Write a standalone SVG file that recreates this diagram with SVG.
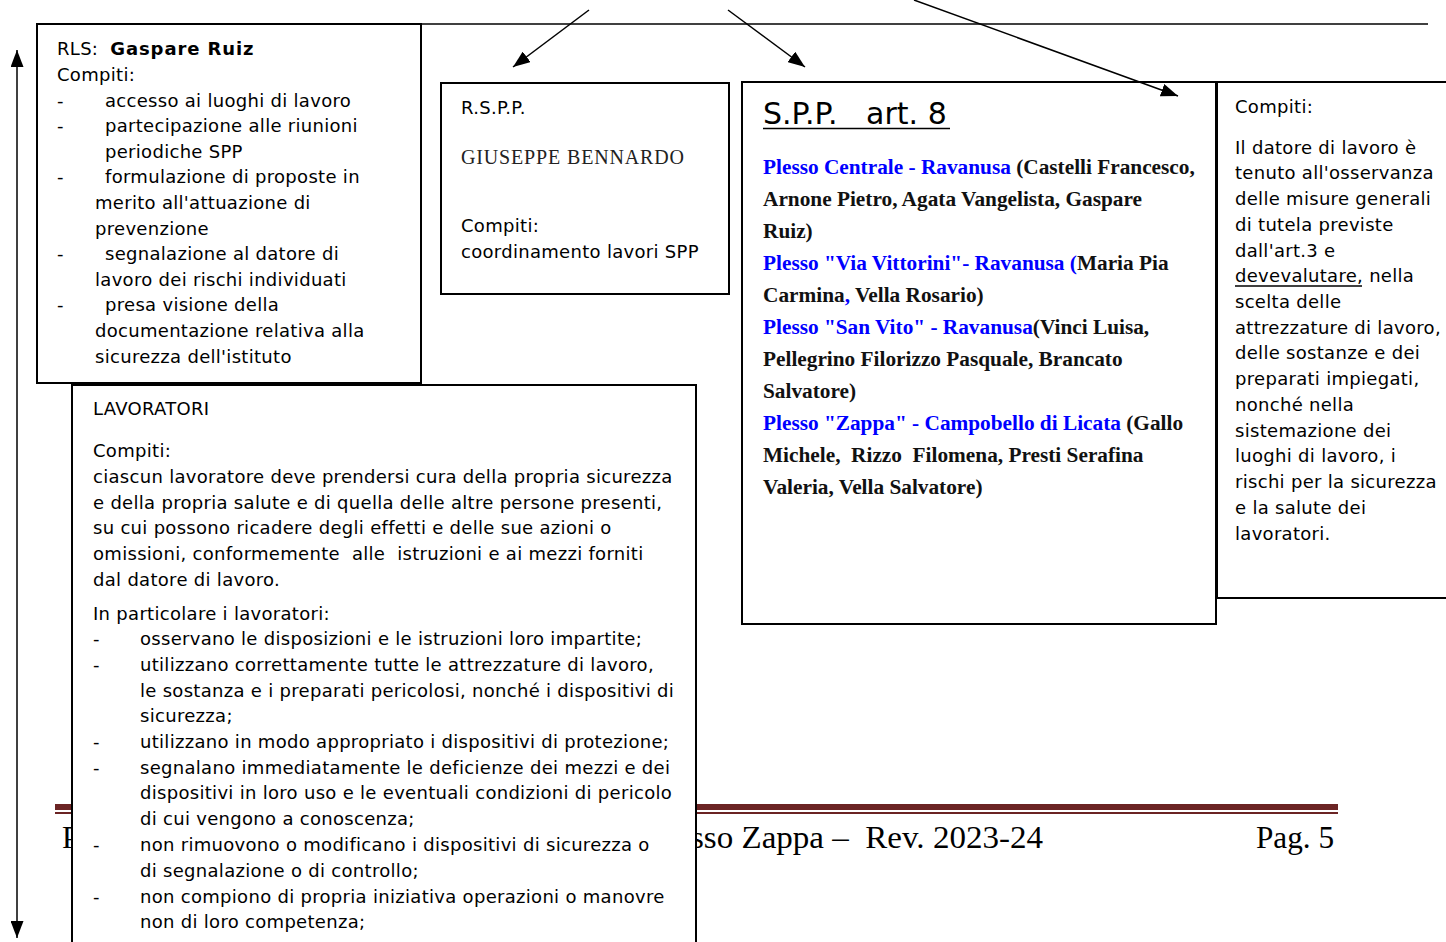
<svg xmlns="http://www.w3.org/2000/svg" width="1446" height="942" viewBox="0 0 1446 942">
<style>
text{white-space:pre}
.box{fill:#fff;stroke:#000;stroke-width:2}
.ln{stroke:#000;stroke-width:1.5;fill:none}
.t{font-family:"DejaVu Sans",Verdana,sans-serif;font-size:18px;letter-spacing:0.3px;fill:#000}
.b{font-weight:bold;letter-spacing:0.9px}
.s{font-family:"Liberation Serif","Times New Roman",serif;font-size:21.3px;font-weight:bold;fill:#111}
.blue{fill:#0000ff}
.nm{font-family:"Liberation Serif","Times New Roman",serif;font-size:20px;fill:#222}
.ttl{font-family:"DejaVu Sans",Verdana,sans-serif;font-size:30px;fill:#000}
.ft{font-family:"Liberation Serif","Times New Roman",serif;font-size:31px;fill:#000}
</style>
<defs>
<marker id="ah" viewBox="0 0 17 13" refX="17" refY="6.5" markerWidth="17" markerHeight="13" markerUnits="userSpaceOnUse" orient="auto-start-reverse">
<path d="M0,0 L17,6.5 L0,13 z" fill="#000"/>
</marker>
</defs>

<g id="footer">
<rect x="55" y="804" width="1283" height="6" fill="#6b2424"/>
<rect x="55" y="812" width="1283" height="2" fill="#6b2424"/>
<text class="ft" x="62" y="848">P</text>
<text class="ft" x="691" y="848" textLength="352" lengthAdjust="spacingAndGlyphs" xml:space="preserve">sso Zappa –  Rev. 2023-24</text>
<text class="ft" x="1256" y="848" textLength="78" lengthAdjust="spacingAndGlyphs">Pag. 5</text>
</g>

<g id="rls">
<rect class="box" x="37" y="24" width="384" height="359"/>
<text class="t" x="57" y="55" xml:space="preserve">RLS:  <tspan class="b">Gaspare Ruiz</tspan></text>
<text class="t" x="57" y="81">Compiti:</text>
<text class="t" x="57" y="107">-</text><text class="t" x="105" y="107">accesso ai luoghi di lavoro</text>
<text class="t" x="57" y="132">-</text><text class="t" x="105" y="132">partecipazione alle riunioni</text>
<text class="t" x="105" y="158">periodiche SPP</text>
<text class="t" x="57" y="183">-</text><text class="t" x="105" y="183">formulazione di proposte in</text>
<text class="t" x="95" y="209">merito all'attuazione di</text>
<text class="t" x="95" y="235">prevenzione</text>
<text class="t" x="57" y="260">-</text><text class="t" x="105" y="260">segnalazione al datore di</text>
<text class="t" x="95" y="286">lavoro dei rischi individuati</text>
<text class="t" x="57" y="311">-</text><text class="t" x="105" y="311">presa visione della</text>
<text class="t" x="95" y="337">documentazione relativa alla</text>
<text class="t" x="95" y="363">sicurezza dell'istituto</text>
</g>

<g id="rspp">
<rect class="box" x="441" y="83" width="288" height="211"/>
<text class="t" x="461" y="114">R.S.P.P.</text>
<text class="nm" x="461" y="164" textLength="223">GIUSEPPE BENNARDO</text>
<text class="t" x="461" y="232">Compiti:</text>
<text class="t" x="461" y="258">coordinamento lavori SPP</text>
</g>

<g id="spp">
<rect class="box" x="742" y="82" width="474" height="542"/>
<text class="ttl" x="763" y="124" xml:space="preserve">S.P.P.   art. 8</text>
<line x1="763" y1="128.5" x2="950" y2="128.5" stroke="#000" stroke-width="1.6"/>
<text class="s" x="763" y="174"><tspan class="blue">Plesso Centrale - Ravanusa</tspan> (Castelli Francesco,</text>
<text class="s" x="763" y="206">Arnone Pietro, Agata Vangelista, Gaspare</text>
<text class="s" x="763" y="238">Ruiz)</text>
<text class="s" x="763" y="270"><tspan class="blue">Plesso "Via Vittorini"- Ravanusa (</tspan>Maria Pia</text>
<text class="s" x="763" y="302">Carmina<tspan class="blue">,</tspan> Vella Rosario)</text>
<text class="s" x="763" y="334"><tspan class="blue">Plesso "San Vito" - Ravanusa</tspan>(Vinci Luisa,</text>
<text class="s" x="763" y="366">Pellegrino Filorizzo Pasquale, Brancato</text>
<text class="s" x="763" y="398">Salvatore)</text>
<text class="s" x="763" y="430"><tspan class="blue">Plesso "Zappa" - Campobello di Licata</tspan> (Gallo</text>
<text class="s" x="763" y="462" xml:space="preserve">Michele,  Rizzo  Filomena, Presti Serafina</text>
<text class="s" x="763" y="494">Valeria, Vella Salvatore)</text>
</g>

<g id="datore">
<path class="box" d="M1448,82 L1217,82 L1217,598 L1448,598"/>
<text class="t" x="1235" y="113">Compiti:</text>
<text class="t" x="1235" y="154">Il datore di lavoro è</text>
<text class="t" x="1235" y="179">tenuto all'osservanza</text>
<text class="t" x="1235" y="205">delle misure generali</text>
<text class="t" x="1235" y="231">di tutela previste</text>
<text class="t" x="1235" y="257">dall'art.3 e</text>
<text class="t" x="1235" y="282">devevalutare, nella</text>
<line x1="1235" y1="286" x2="1362" y2="286" stroke="#000" stroke-width="1.3"/>
<text class="t" x="1235" y="308">scelta delle</text>
<text class="t" x="1235" y="334">attrezzature di lavoro,</text>
<text class="t" x="1235" y="359">delle sostanze e dei</text>
<text class="t" x="1235" y="385">preparati impiegati,</text>
<text class="t" x="1235" y="411">nonché nella</text>
<text class="t" x="1235" y="437">sistemazione dei</text>
<text class="t" x="1235" y="462">luoghi di lavoro, i</text>
<text class="t" x="1235" y="488">rischi per la sicurezza</text>
<text class="t" x="1235" y="514">e la salute dei</text>
<text class="t" x="1235" y="540">lavoratori.</text>
</g>

<g id="lavoratori">
<path class="box" d="M72,944 L72,385 L696,385 L696,944"/>
<text class="t" x="93" y="415">LAVORATORI</text>
<text class="t" x="93" y="457">Compiti:</text>
<text class="t" x="93" y="483">ciascun lavoratore deve prendersi cura della propria sicurezza</text>
<text class="t" x="93" y="509">e della propria salute e di quella delle altre persone presenti,</text>
<text class="t" x="93" y="534">su cui possono ricadere degli effetti e delle sue azioni o</text>
<text class="t" x="93" y="560" xml:space="preserve">omissioni, conformemente  alle  istruzioni e ai mezzi forniti</text>
<text class="t" x="93" y="586">dal datore di lavoro.</text>
<text class="t" x="93" y="620">In particolare i lavoratori:</text>
<text class="t" x="93" y="645">-</text><text class="t" x="140" y="645">osservano le disposizioni e le istruzioni loro impartite;</text>
<text class="t" x="93" y="671">-</text><text class="t" x="140" y="671">utilizzano correttamente tutte le attrezzature di lavoro,</text>
<text class="t" x="140" y="697">le sostanza e i preparati pericolosi, nonché i dispositivi di</text>
<text class="t" x="140" y="722">sicurezza;</text>
<text class="t" x="93" y="748">-</text><text class="t" x="140" y="748">utilizzano in modo appropriato i dispositivi di protezione;</text>
<text class="t" x="93" y="774">-</text><text class="t" x="140" y="774">segnalano immediatamente le deficienze dei mezzi e dei</text>
<text class="t" x="140" y="799">dispositivi in loro uso e le eventuali condizioni di pericolo</text>
<text class="t" x="140" y="825">di cui vengono a conoscenza;</text>
<text class="t" x="93" y="851">-</text><text class="t" x="140" y="851">non rimuovono o modificano i dispositivi di sicurezza o</text>
<text class="t" x="140" y="877">di segnalazione o di controllo;</text>
<text class="t" x="93" y="903">-</text><text class="t" x="140" y="903">non compiono di propria iniziativa operazioni o manovre</text>
<text class="t" x="140" y="928">non di loro competenza;</text>
</g>

<g id="connectors">
<line class="ln" x1="421" y1="24" x2="1428" y2="24"/>
<line class="ln" x1="589" y1="10" x2="513" y2="67" marker-end="url(#ah)"/>
<line class="ln" x1="728" y1="10" x2="805" y2="67" marker-end="url(#ah)"/>
<line class="ln" x1="914" y1="0" x2="1178" y2="96" marker-end="url(#ah)"/>
<line class="ln" x1="17" y1="50" x2="17" y2="938" marker-start="url(#ah)" marker-end="url(#ah)"/>
</g>
</svg>
